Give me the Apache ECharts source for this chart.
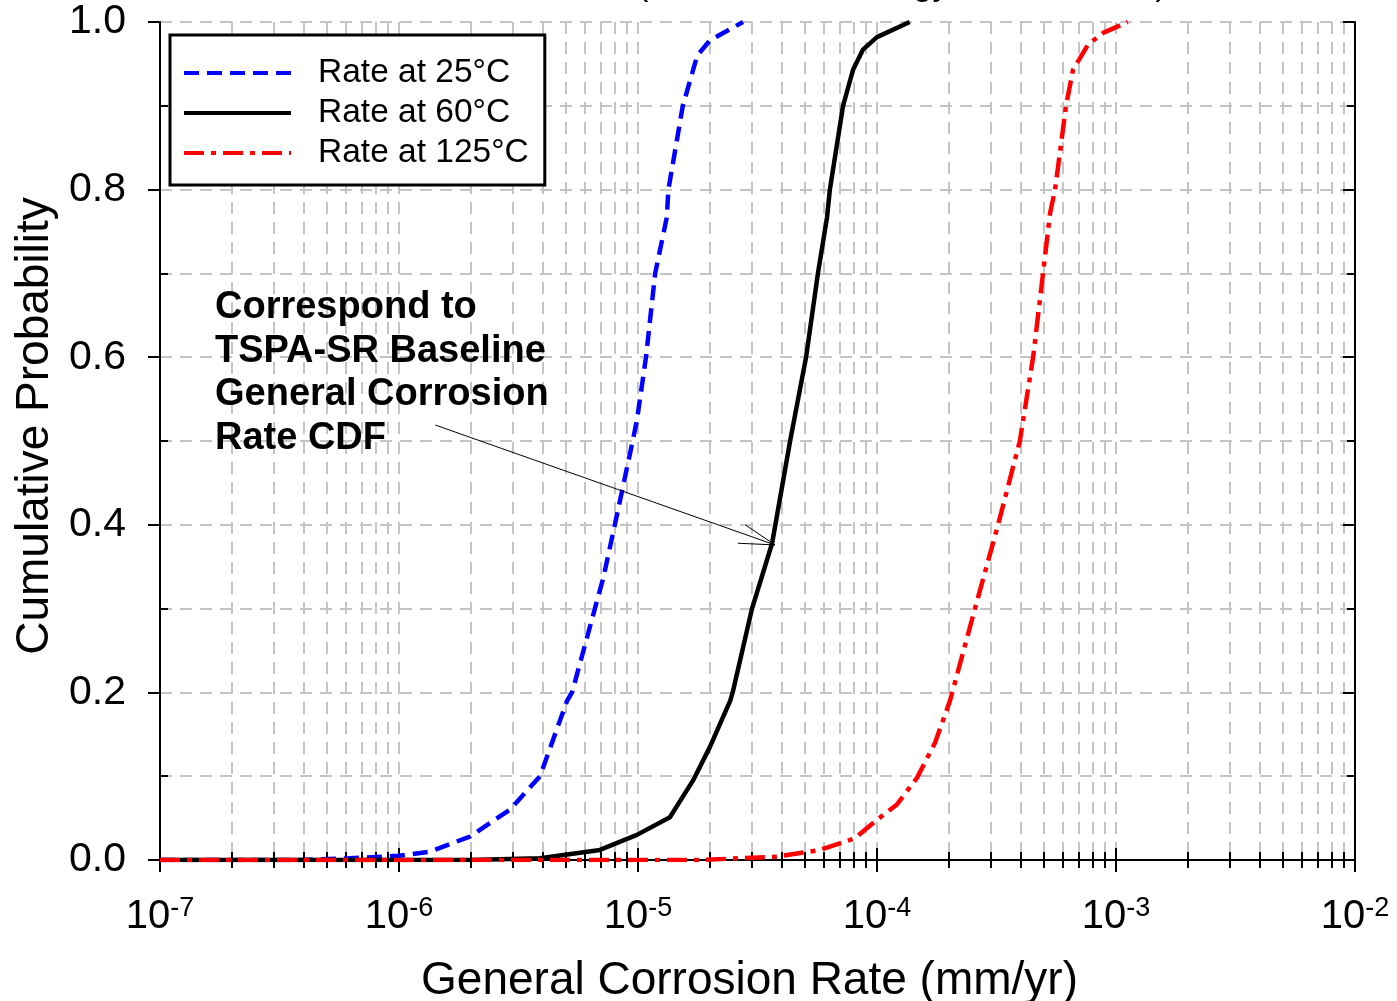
<!DOCTYPE html>
<html>
<head>
<meta charset="utf-8">
<script src="https://cdn.jsdelivr.net/npm/echarts@6/dist/echarts.min.js"></script>
<style>
  html, body { margin: 0; padding: 0; background: #fff; }
</style>
</head>
<body>
<div id="chart" style="width: 1397px; height: 1001px;"></div>
<script>
// corrosion rate (mm/yr) vs cumulative probability
const rate25 = [1e-7, 3.9e-7, 6.2e-7, 1.0e-6, 1.35e-6, 1.98e-6, 2.91e-6, 3.89e-6, 5.05e-6, 5.3e-6, 6.6e-6, 7.15e-6, 8.0e-6, 9.5e-6, 9.9e-6, 1.08e-5, 1.18e-5, 1.32e-5, 1.34e-5, 1.54e-5, 1.77e-5, 2.0e-5, 2.75e-5];
const prob25 = [0, 0, 0.002, 0.005, 0.01, 0.028, 0.06, 0.10, 0.19, 0.2, 0.3, 0.336, 0.4, 0.5, 0.525, 0.6, 0.7, 0.767, 0.8, 0.9, 0.96, 0.978, 1.0];

const rate60 = [1e-7, 1.98e-6, 3.89e-6, 6.93e-6, 9.9e-6, 1.36e-5, 1.70e-5, 2.0e-5, 2.43e-5, 2.49e-5, 3.0e-5, 3.64e-5, 4.33e-5, 5.05e-5, 5.66e-5, 6.18e-5, 6.35e-5, 7.21e-5, 7.94e-5, 8.73e-5, 1.0e-4, 1.37e-4];
const prob60 = [0, 0, 0.002, 0.012, 0.03, 0.051, 0.095, 0.135, 0.19, 0.2, 0.3, 0.378, 0.5, 0.6, 0.7, 0.767, 0.8, 0.9, 0.943, 0.967, 0.982, 1.0];

const rate125 = [1e-7, 1.82e-5, 3.82e-5, 5.78e-5, 8.09e-5, 1.0e-4, 1.21e-4, 1.47e-4, 1.75e-4, 2.02e-4, 2.57e-4, 3.21e-4, 3.96e-4, 4.50e-4, 4.95e-4, 5.30e-4, 5.56e-4, 6.18e-4, 6.61e-4, 7.64e-4, 8.83e-4, 1.12e-3];
const prob125 = [0, 0, 0.004, 0.012, 0.026, 0.048, 0.066, 0.098, 0.14, 0.19, 0.3, 0.4, 0.5, 0.6, 0.7, 0.772, 0.8, 0.9, 0.943, 0.973, 0.987, 1.0];

const seriesNames = ['Rate at 25°C', 'Rate at 60°C', 'Rate at 125°C'];
const noteLines = ['Correspond to', 'TSPA-SR Baseline', 'General Corrosion', 'Rate CDF'];
// arrow from the note to the 60°C curve, in data coords
const arrowTail = [1.42e-6, 0.519];
const arrowTip = [3.74e-5, 0.376];
const arrowWings = [[2.81e-5, 0.400], [2.62e-5, 0.378]];

const pair = (xs, ys) => xs.map((x, i) => [x, ys[i]]);

const gridCol = '#c4c4c4';
const font = 'Liberation Sans, Arial, sans-serif';

const chart = echarts.init(document.getElementById('chart'));

const logAxis = (extra) => Object.assign({
  type: 'log',
  logBase: 10,
  min: 1e-7,
  max: 1e-2,
  interval: 1,
  gridIndex: 0,
  axisLabel: { show: false },
  splitLine: { show: false },
  minorSplitLine: { show: false },
  axisLine: { show: false },
  axisTick: { show: false },
  minorTick: { show: false },
}, extra);

const option = {
  animation: false,
  title: {
    text: '(Same Methodology as TSPA-SR)',
    left: 897,
    textAlign: 'center',
    top: -37,
    textStyle: { fontFamily: font, fontSize: 35, fontWeight: 'normal', color: '#000' },
  },
  grid: { left: 160, right: 42, top: 22, bottom: 141, containLabel: false, outerBoundsMode: 'none' },
  legend: {
    orient: 'vertical',
    left: 170,
    top: 35,
    itemWidth: 107,
    itemHeight: 20,
    itemGap: 6,
    padding: [21, 16, 15, 12],
    backgroundColor: '#fff',
    borderColor: '#000',
    borderWidth: 3,
    borderRadius: 0,
    itemStyle: { opacity: 0 },
    lineStyle: { width: 4 },
    textStyle: { fontFamily: font, fontSize: 33.5, color: '#000', lineHeight: 32, padding: [0, 0, 0, 22] },
    data: seriesNames,
  },
  xAxis: [
    logAxis({
      position: 'bottom',
      name: 'General Corrosion Rate (mm/yr)',
      nameLocation: 'middle',
      nameGap: 98,
      nameTextStyle: { fontFamily: font, fontSize: 46, color: '#000', padding: [0, 16, 0, 0] },
      axisLine: { show: true, lineStyle: { color: '#000', width: 2 } },
      axisTick: { show: true, inside: false, length: 12, lineStyle: { color: '#000', width: 2 } },
      minorTick: { show: true, splitNumber: 9, length: -8, lineStyle: { color: '#000', width: 2 } },
      splitLine: { show: true, lineStyle: { color: gridCol, width: 2, type: [12, 8] } },
      minorSplitLine: { show: true, lineStyle: { color: gridCol, width: 2, type: [12, 8] } },
      axisLabel: {
        show: true,
        margin: 35,
        formatter: (v) => '{b|10}{s|' + Math.round(Math.log10(v)) + '}',
        rich: {
          b: { fontFamily: font, fontSize: 40, color: '#000' },
          s: { fontFamily: font, fontSize: 27, color: '#000', verticalAlign: 'top', padding: [0, 0, 16, 0] },
        },
      },
    }),
    logAxis({
      position: 'top',
      axisLine: { show: true, lineStyle: { color: '#000', width: 2 } },
      axisTick: { show: true, inside: true, length: 12, lineStyle: { color: '#000', width: 2 } },
      minorTick: { show: true, splitNumber: 9, length: 8, lineStyle: { color: '#000', width: 2 } },
    }),
    logAxis({
      position: 'bottom',
      offset: 0,
      axisTick: { show: true, inside: true, length: 12, lineStyle: { color: '#000', width: 2 } },
    }),
  ],
  yAxis: [
    {
      type: 'value',
      position: 'left',
      min: 0,
      max: 1,
      interval: 0.2,
      name: 'Cumulative Probability',
      nameLocation: 'middle',
      nameGap: 102,
      nameTextStyle: { fontFamily: font, fontSize: 46, color: '#000', padding: [0, 0, 0, 30] },
      axisLine: { show: true, lineStyle: { color: '#000', width: 2 } },
      axisTick: { show: true, inside: false, length: 12, lineStyle: { color: '#000', width: 2 } },
      minorTick: { show: true, splitNumber: 2, length: -8, lineStyle: { color: '#000', width: 2 } },
      splitLine: { show: true, lineStyle: { color: gridCol, width: 2, type: [12, 8] } },
      minorSplitLine: { show: true, lineStyle: { color: gridCol, width: 2, type: [12, 8] } },
      axisLabel: { margin: 34, fontFamily: font, fontSize: 41, color: '#000', formatter: (v) => v.toFixed(1) },
    },
    {
      type: 'value',
      position: 'right',
      min: 0,
      max: 1,
      interval: 0.2,
      axisLine: { show: true, lineStyle: { color: '#000', width: 2 } },
      axisTick: { show: true, inside: true, length: 12, lineStyle: { color: '#000', width: 2 } },
      minorTick: { show: true, splitNumber: 2, length: 8, lineStyle: { color: '#000', width: 2 } },
      splitLine: { show: false },
      axisLabel: { show: false },
    },
  ],
  graphic: [
    {
      type: 'text',
      left: 215,
      top: 286,
      z: 100,
      style: {
        text: noteLines.join('\n'),
        font: 'bold 38px ' + font,
        lineHeight: 43.5,
        fill: '#000',
      },
    },
  ],
  series: [
    {
      name: seriesNames[0],
      type: 'line',
      symbol: 'none',
      color: '#0000ff',
      lineStyle: { color: '#0000ff', width: 4.5, type: [15, 8] },
      data: pair(rate25, prob25),
      z: 3,
    },
    {
      name: seriesNames[1],
      type: 'line',
      symbol: 'none',
      color: '#000',
      lineStyle: { color: '#000', width: 4.5 },
      data: pair(rate60, prob60),
      z: 4,
      markLine: {
        silent: true,
        symbol: 'none',
        animation: false,
        label: { show: false },
        lineStyle: { color: '#000', width: 1, type: 'solid' },
        data: [
          [{ coord: arrowTail }, { coord: arrowTip }],
          [{ coord: arrowWings[0] }, { coord: arrowTip }],
          [{ coord: arrowWings[1] }, { coord: arrowTip }],
        ],
      },
    },
    {
      name: seriesNames[2],
      type: 'line',
      symbol: 'none',
      color: '#ff0000',
      lineStyle: { color: '#ff0000', width: 4.5, type: [20, 7, 5, 7] },
      data: pair(rate125, prob125),
      z: 5,
    },
  ],
};

chart.setOption(option);
</script>
</body>
</html>
